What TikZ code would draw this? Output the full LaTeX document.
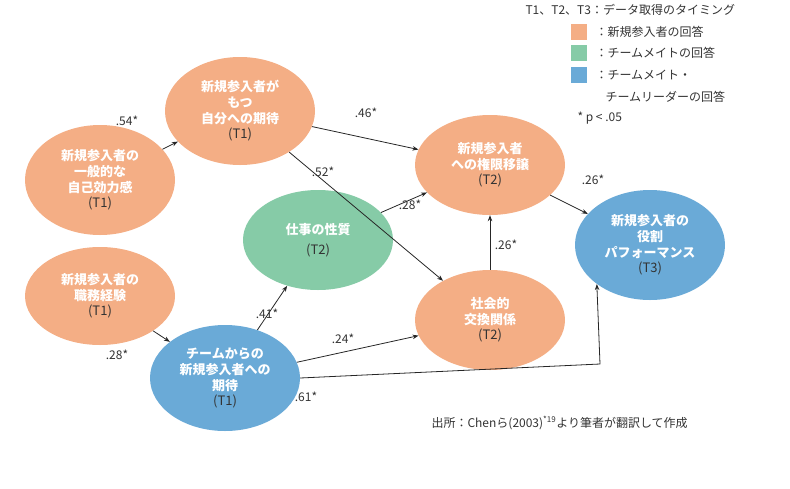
\documentclass[tikz,border=0pt]{standalone}
\usepackage{fontspec}
\setmainfont{Noto Sans CJK JP}
\usetikzlibrary{shapes.geometric,arrows.meta}
\definecolor{orng}{HTML}{F4AE85}
\definecolor{grn}{HTML}{86CBA7}
\definecolor{blu}{HTML}{6AAAD7}
\definecolor{txt}{HTML}{333333}
\begin{document}
\begin{tikzpicture}[x=1pt,y=-1pt,
  el/.style={ellipse,minimum width=150pt,minimum height=#1,inner sep=0pt,align=center,text=white,font=\fontsize{13}{16}\selectfont\bfseries},
  el/.default=102pt,
  tt/.style={text=txt,font=\fontsize{12}{14}\selectfont\mdseries},
  lab/.style={text=txt,font=\fontsize{12}{14}\selectfont},
  arr/.style={-{Stealth[length=6pt]},thick,black!85}]
\useasboundingbox (0,0) rectangle (790,488);
\node[el=110pt,fill=orng] (A) at (100,180) {新規参入者の\\一般的な\\自己効力感\\[-1pt]\textcolor{txt}{\mdseries(T1)}};
\node[el=108pt,fill=orng] (B) at (240,111) {新規参入者が\\もつ\\自分への期待\\[-1pt]\textcolor{txt}{\mdseries(T1)}};
\node[el=98pt,fill=orng] (C) at (100,296) {新規参入者の\\職務経験\\[-1pt]\textcolor{txt}{\mdseries(T1)}};
\node[el=106pt,fill=blu] (D) at (225,378) {チームからの\\新規参入者への\\期待\\[-1pt]\textcolor{txt}{\mdseries(T1)}};
\node[el=100pt,fill=grn] (E) at (318,240) {仕事の性質\\[4pt]\textcolor{txt}{\mdseries(T2)}};
\node[el=100pt,fill=orng] (F) at (490,165) {新規参入者\\への権限移譲\\[-1pt]\textcolor{txt}{\mdseries(T2)}};
\node[el=100pt,fill=orng] (G) at (490,320) {社会的\\交換関係\\[-1pt]\textcolor{txt}{\mdseries(T2)}};
\node[el=110pt,fill=blu] (H) at (650,245) {新規参入者の\\役割\\パフォーマンス\\[-1pt]\textcolor{txt}{\mdseries(T3)}};
\draw[arr] (A) -- (B);
\draw[arr] (B) -- (F);
\draw[arr] (B) -- (G);
\draw[arr] (E) -- (F);
\draw[arr] (G) -- (F);
\draw[arr] (F) -- (H);
\draw[arr] (C) -- (D);
\draw[arr] (D) -- (E);
\draw[arr] (D) -- (G);
\coordinate (bend) at (600,364);
\draw[arr] (D.east) -- (bend) -- (H.south west);
\node[lab] (l1) at (127,121) {.54*};
\node[lab] (l2) at (366,113) {.46*};
\node[lab] (l3) at (323,172) {.52*};
\node[lab] (l4) at (410,205) {.28*};
\node[lab] (l5) at (506,245) {.26*};
\node[lab] (l6) at (593,180) {.26*};
\node[lab] (l7) at (117,355) {.28*};
\node[lab] (l8) at (267,314) {.41*};
\node[lab] (l9) at (343,339) {.24*};
\node[lab] (l10) at (306,397) {.61*};
\node[tt,anchor=west] (leg0) at (522,10) {T1、T2、T3：データ取得のタイミング};
\node[fill=orng,minimum width=16pt,minimum height=16pt,inner sep=0pt] (s1) at (579,32) {};
\node[tt,anchor=west] (leg1) at (592,32) {：新規参入者の回答};
\node[fill=grn,minimum width=16pt,minimum height=16pt,inner sep=0pt] (s2) at (579,53) {};
\node[tt,anchor=west] (leg2) at (592,53) {：チームメイトの回答};
\node[fill=blu,minimum width=16pt,minimum height=16pt,inner sep=0pt] (s3) at (579,75) {};
\node[tt,anchor=west] (leg3) at (592,75) {：チームメイト・};
\node[tt,anchor=west] (leg4) at (602,97) {チームリーダーの回答};
\node[tt,anchor=west] (leg5) at (574,118) {* p < .05};
\node[tt,anchor=west] (src) at (428,423) {出所：Chenら(2003)\textsuperscript{*19}より筆者が翻訳して作成};
\end{tikzpicture}
\end{document}
